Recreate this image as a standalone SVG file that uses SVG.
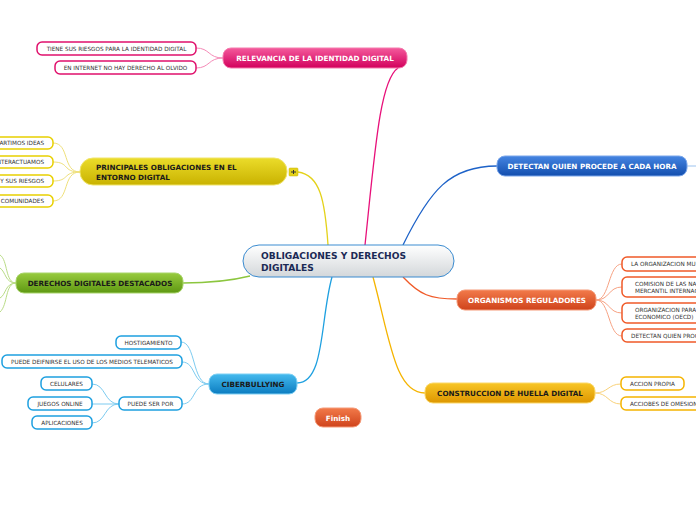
<svg xmlns="http://www.w3.org/2000/svg" width="696" height="520" viewBox="0 0 696 520">
<defs>
<linearGradient id="gPink" x1="0" y1="0" x2="0" y2="1"><stop offset="0" stop-color="#f45a9c"/><stop offset="1" stop-color="#d2005c"/></linearGradient>
<linearGradient id="gYel" x1="0" y1="0" x2="0" y2="1"><stop offset="0" stop-color="#ebdc2a"/><stop offset="1" stop-color="#c9b200"/></linearGradient>
<linearGradient id="gGreen" x1="0" y1="0" x2="0" y2="1"><stop offset="0" stop-color="#98cb3e"/><stop offset="1" stop-color="#5e9812"/></linearGradient>
<linearGradient id="gCyan" x1="0" y1="0" x2="0" y2="1"><stop offset="0" stop-color="#45baee"/><stop offset="1" stop-color="#0b7cc0"/></linearGradient>
<linearGradient id="gBlue" x1="0" y1="0" x2="0" y2="1"><stop offset="0" stop-color="#4585e2"/><stop offset="1" stop-color="#134eae"/></linearGradient>
<linearGradient id="gRed" x1="0" y1="0" x2="0" y2="1"><stop offset="0" stop-color="#f27a4a"/><stop offset="1" stop-color="#cf431b"/></linearGradient>
<linearGradient id="gOra" x1="0" y1="0" x2="0" y2="1"><stop offset="0" stop-color="#f8c626"/><stop offset="1" stop-color="#dd9600"/></linearGradient>
<linearGradient id="gCenter" x1="0" y1="0" x2="0" y2="1"><stop offset="0" stop-color="#ffffff"/><stop offset="1" stop-color="#d3d7da"/></linearGradient>
</defs>
<style>
.main{font-family:"DejaVu Sans",Verdana,sans-serif;font-weight:bold;font-size:7.2px;text-anchor:middle}
.w{fill:#ffffff}
.k{fill:#1a1a1a}
.sub{font-family:"DejaVu Sans",Verdana,sans-serif;font-size:5.7px;fill:#333333}
.box{fill:#ffffff;stroke-width:1.5}
.c{fill:none;stroke-width:1}
.cm{fill:none;stroke-width:1.3}
</style>
<rect width="696" height="520" fill="#ffffff"/>
<g id="connectors">
<path class="cm" stroke="#e8107a" d="M365,245 C375,150 380,80 398,68"/>
<path class="cm" stroke="#e4d21a" d="M328,245 C325,200 320,175 298,172"/>
<path class="cm" stroke="#1d62c8" d="M403,245 C430,190 450,166 497,166"/>
<path class="cm" stroke="#8cc63f" d="M250,276 C230,281 210,283 183,283"/>
<path class="cm" stroke="#1ea0e0" d="M332,277 C320,320 325,383 297,383"/>
<path class="cm" stroke="#f05a28" d="M403,277 C420,295 430,299 457,299"/>
<path class="cm" stroke="#f5b400" d="M373,277 C390,340 395,393 425,393"/>
<path class="c" stroke="#9cc3ef" d="M687,166 L696,166"/>
<path class="c" stroke="#f58bb8" d="M223,58 C208,58 210,48 196,48 M223,58 C208,58 210,68 196,68"/>
<path class="c" stroke="#efe07a" d="M80,172 C62,172 70,143 53,143 M80,172 C62,172 70,162 53,162 M80,172 C62,172 70,181 53,181 M80,172 C62,172 70,201 53,201"/>
<path class="c" stroke="#b9dc86" d="M16,283 C5,283 8,260 0,255 M16,283 C5,283 6,272 0,268 M16,283 C5,283 6,295 0,298 M16,283 C5,283 8,305 0,312"/>
<path class="c" stroke="#7ccbf0" d="M209,384 C192,384 196,342 181,342 M209,384 C192,384 196,362 182,362 M209,384 C192,384 196,404 182,404"/>
<path class="c" stroke="#7ccbf0" d="M119,404 C104,404 106,384 92,384 M119,404 L92,404 M119,404 C104,404 106,423 92,423"/>
<path class="c" stroke="#f7a283" d="M596,300 C610,300 608,264 622,264 M596,300 C610,300 608,287 622,287 M596,300 C610,300 608,313 622,313 M596,300 C610,300 608,336 622,336"/>
<path class="c" stroke="#f9d27a" d="M595,393 C608,393 608,384 621,384 M595,393 C608,393 608,404 621,404"/>
</g>
<g id="center">
<rect x="243" y="245" width="211" height="32" rx="16" fill="url(#gCenter)" stroke="#3a8bd0" stroke-width="1"/>
<text x="261" y="259" font-family="DejaVu Sans,Verdana,sans-serif" font-weight="bold" font-size="9.1" fill="#1b2a55">OBLIGACIONES Y DERECHOS</text>
<text x="261" y="270.5" font-family="DejaVu Sans,Verdana,sans-serif" font-weight="bold" font-size="9.1" fill="#1b2a55">DIGITALES</text>
</g>
<g id="relevancia">
<rect x="223" y="48" width="184" height="20" rx="8" fill="url(#gPink)" stroke="#f47aad" stroke-width="1"/>
<text class="main w" x="315" y="61">RELEVANCIA DE LA IDENTIDAD DIGITAL</text>
</g>
<g id="rel1"><rect class="box" x="37" y="42" width="159" height="13" rx="5" stroke="#e0106c"/><text class="sub" x="116.5" y="50.5" text-anchor="middle">TIENE SUS RIESGOS PARA LA IDENTIDAD DIGITAL</text></g>
<g id="rel2"><rect class="box" x="55" y="61" width="141" height="13" rx="5" stroke="#e0106c"/><text class="sub" x="125.5" y="69.5" text-anchor="middle">EN INTERNET NO HAY DERECHO AL OLVIDO</text></g>
<g id="obligaciones">
<rect x="80" y="158" width="207" height="27" rx="13" fill="url(#gYel)" stroke="#f0e46a" stroke-width="1"/>
<text x="96" y="170" font-family="DejaVu Sans,Verdana,sans-serif" font-weight="bold" font-size="7.2" fill="#1a1a1a">PRINCIPALES OBLIGACIONES EN EL</text>
<text x="96" y="179.5" font-family="DejaVu Sans,Verdana,sans-serif" font-weight="bold" font-size="7.2" fill="#1a1a1a">ENTORNO DIGITAL</text>
<rect x="289" y="168" width="9" height="8" rx="1" fill="#e4d21a" stroke="#c9b200" stroke-width="0.5"/>
<path d="M291,172 h5 M293.5,170 v4" stroke="#333" stroke-width="1" fill="none"/>
</g>
<g id="obl1"><rect class="box" x="-40" y="137" width="93" height="12" rx="5" stroke="#e8d000"/><text class="sub" x="44" y="145" text-anchor="end">ARTIMOS IDEAS</text></g>
<g id="obl2"><rect class="box" x="-40" y="156" width="93" height="12" rx="5" stroke="#e8d000"/><text class="sub" x="44" y="164" text-anchor="end">NTERACTUAMOS</text></g>
<g id="obl3"><rect class="box" x="-40" y="175" width="93" height="12" rx="5" stroke="#e8d000"/><text class="sub" x="44" y="183" text-anchor="end">Y SUS RIESGOS</text></g>
<g id="obl4"><rect class="box" x="-40" y="195" width="93" height="12" rx="5" stroke="#e8d000"/><text class="sub" x="44" y="203" text-anchor="end">COMUNIDADES</text></g>
<g id="derechos">
<rect x="16" y="273" width="167" height="20" rx="8" fill="url(#gGreen)" stroke="#a8d46a" stroke-width="1"/>
<text class="main k" x="100" y="286">DERECHOS DIGITALES DESTACADOS</text>
</g>
<g id="ciberbullying">
<rect x="209" y="374" width="88" height="20" rx="8" fill="url(#gCyan)" stroke="#7fd0f4" stroke-width="1"/>
<text class="main k" x="253" y="387">CIBERBULLYING</text>
</g>
<g id="cb1"><rect class="box" x="116" y="336" width="65" height="13" rx="5" stroke="#1ea0e0"/><text class="sub" x="148.5" y="344.5" text-anchor="middle">HOSTIGAMIENTO</text></g>
<g id="cb2"><rect class="box" x="2" y="355" width="180" height="13" rx="5" stroke="#1ea0e0"/><text class="sub" x="92" y="363.5" text-anchor="middle">PUEDE DEIFNIRSE EL USO DE LOS MEDIOS TELEMATICOS</text></g>
<g id="cb3"><rect class="box" x="119" y="397" width="63" height="13" rx="5" stroke="#1ea0e0"/><text class="sub" x="150.5" y="405.5" text-anchor="middle">PUEDE SER POR</text></g>
<g id="cb31"><rect class="box" x="41" y="377" width="51" height="13" rx="5" stroke="#1ea0e0"/><text class="sub" x="66.5" y="385.5" text-anchor="middle">CELULARES</text></g>
<g id="cb32"><rect class="box" x="28" y="397" width="64" height="13" rx="5" stroke="#1ea0e0"/><text class="sub" x="60" y="405.5" text-anchor="middle">JUEGOS ONLINE</text></g>
<g id="cb33"><rect class="box" x="32" y="416" width="60" height="13" rx="5" stroke="#1ea0e0"/><text class="sub" x="62" y="424.5" text-anchor="middle">APLICACIONES</text></g>
<g id="finish">
<rect x="315" y="408" width="46" height="19" rx="8" fill="url(#gRed)" stroke="#f59a78" stroke-width="1"/>
<text class="main w" x="338" y="420.5">Finish</text>
</g>
<g id="detectan">
<rect x="497" y="156" width="190" height="20" rx="8" fill="url(#gBlue)" stroke="#7aa6ea" stroke-width="1"/>
<text class="main w" x="592" y="169">DETECTAN QUIEN PROCEDE A CADA HORA</text>
</g>
<g id="organismos">
<rect x="457" y="290" width="139" height="20" rx="8" fill="url(#gRed)" stroke="#f59a78" stroke-width="1"/>
<text class="main w" x="527" y="303">ORGANISMOS REGULADORES</text>
</g>
<g id="org1"><rect class="box" x="622" y="257" width="100" height="14" rx="5" stroke="#f05a28"/><text class="sub" x="631" y="266">LA ORGANIZACION MU</text></g>
<g id="org2"><rect class="box" x="622" y="277" width="100" height="20" rx="5" stroke="#f05a28"/><text class="sub" x="635" y="285.5">COMISION DE LAS NA</text><text class="sub" x="635" y="293">MERCANTIL INTERNAC</text></g>
<g id="org3"><rect class="box" x="622" y="303" width="100" height="20" rx="5" stroke="#f05a28"/><text class="sub" x="635" y="311.5">ORGANIZACION PARA</text><text class="sub" x="635" y="319">ECONOMICO (OECD)</text></g>
<g id="org4"><rect class="box" x="622" y="329" width="100" height="13" rx="5" stroke="#f05a28"/><text class="sub" x="631" y="337.5">DETECTAN QUIEN PROC</text></g>
<g id="construccion">
<rect x="425" y="383" width="170" height="20" rx="8" fill="url(#gOra)" stroke="#fbd86a" stroke-width="1"/>
<text class="main k" x="510" y="396">CONSTRUCCION DE HUELLA DIGITAL</text>
</g>
<g id="con1"><rect class="box" x="621" y="377" width="63" height="13" rx="5" stroke="#f5b400"/><text class="sub" x="652.5" y="385.5" text-anchor="middle">ACCION PROPIA</text></g>
<g id="con2"><rect class="box" x="621" y="397" width="90" height="13" rx="5" stroke="#f5b400"/><text class="sub" x="630" y="405.5">ACCIOBES DE OMESION</text></g>
</svg>
